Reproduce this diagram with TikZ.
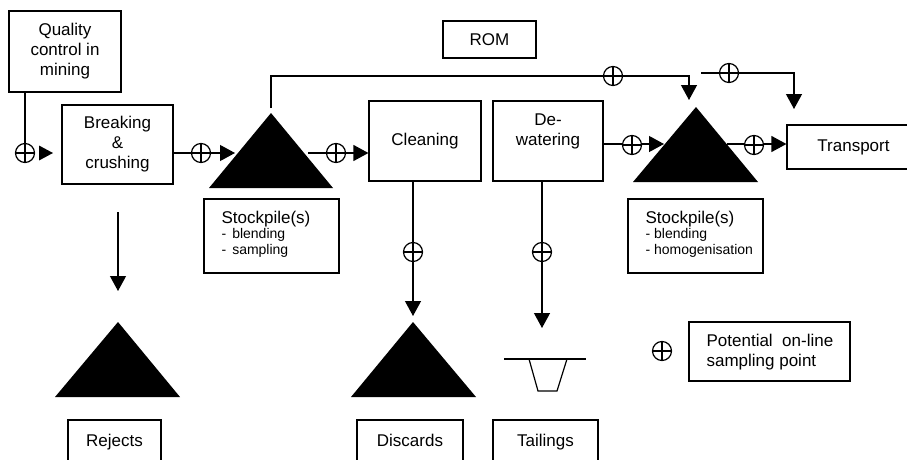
\documentclass[tikz,border=0pt]{standalone}
\usepackage{fontspec}
\setmainfont{Liberation Sans}
\usetikzlibrary{arrows.meta}
\begin{document}
\begin{tikzpicture}[x=1pt,y=-1pt,line width=1.2pt,
  box/.style={draw,line width=1.2pt,inner sep=0pt,align=center,font=\fontsize{17}{20}\selectfont},
  lbl/.style={inner sep=0pt,align=left,font=\fontsize{17}{20}\selectfont},
  sml/.style={inner sep=0pt,align=left,font=\fontsize{14}{16}\selectfont},
  samp/.style={circle,draw,fill=white,minimum size=19pt,inner sep=0pt,line width=1.2pt,
    path picture={\draw[line width=1.2pt] (path picture bounding box.north) -- (path picture bounding box.south)
      (path picture bounding box.west) -- (path picture bounding box.east);}},
  arr/.style={-{Triangle[length=15pt,width=16pt]}},
  pile/.style={fill=black}]
\useasboundingbox (0,0) rectangle (907,460);
\clip (0,0) rectangle (907,460);

% boxes
\node[box,minimum width=112pt,minimum height=81pt] (qc) at (65,51.5) {Quality\\control in\\mining};
\node[box,minimum width=111pt,minimum height=79pt] (bc) at (117.5,144.5) {Breaking\\\&\\crushing};
\node[box,minimum width=93pt,minimum height=37pt] (rom) at (489.5,39.5) {ROM};
\node[box,minimum width=112pt,minimum height=80pt] (cl) at (425,141) {Cleaning};
\node[box,minimum width=110pt,minimum height=80pt] (dw) at (548,141) {};
\node[lbl,align=center] (dwt) at (548,131) {De-\\watering};
\node[box,minimum width=133pt,minimum height=44pt] (tr) at (853.5,147) {Transport};
\node[box,minimum width=135pt,minimum height=74pt] (sp1) at (271.5,236) {};
\node[lbl,anchor=west] (sp1a) at (221,219) {Stockpile(s)};
\node[sml,anchor=west] (sp1b) at (221,235) {-\hspace{6pt}blending};
\node[sml,anchor=west] (sp1c) at (221,251) {-\hspace{6pt}sampling};
\node[box,minimum width=135pt,minimum height=74pt] (sp2) at (695.5,236) {};
\node[lbl,anchor=west] (sp2a) at (645,219) {Stockpile(s)};
\node[sml,anchor=west] (sp2b) at (645,235) {- blending};
\node[sml,anchor=west] (sp2c) at (645,251) {- homogenisation};
\node[box,minimum width=93pt,minimum height=44pt] (rej) at (114.5,442) {};
\node[lbl,anchor=base] (rejt) at (114.5,446) {Rejects};
\node[box,minimum width=106pt,minimum height=44pt] (dis) at (410,442) {};
\node[lbl,anchor=base] (dist) at (410,446) {Discards};
\node[box,minimum width=105pt,minimum height=44pt] (tai) at (545.5,442) {};
\node[lbl,anchor=base] (tait) at (545.5,446) {Tailings};
\node[box,minimum width=161pt,minimum height=59pt] (leg) at (769.5,351.5) {};
\node[lbl,anchor=west] (legt) at (706,352) {Potential\ \ on-line\\sampling point};

% stockpiles
\fill[pile] (271,113) -- (209,188) -- (333,188) -- cycle;
\fill[pile] (696,107) -- (633,182) -- (758,182) -- cycle;
\fill[pile] (118,322) -- (55,397) -- (180,397) -- cycle;
\fill[pile] (413,322) -- (351,397) -- (476,397) -- cycle;
% tailings dam
\draw (504,359) -- (586,359);
\draw (529,359) -- (538,391) -- (557,391) -- (567,359);

% sampling point positions
\coordinate (p1) at (25,153);
\coordinate (p2) at (201,153);
\coordinate (p3) at (336,153);
\coordinate (p4) at (613,76);
\coordinate (p5) at (632,145);
\coordinate (p6) at (754,145);
\coordinate (p7) at (729,73);
\coordinate (p8) at (413,252);
\coordinate (p9) at (542,252);
\coordinate (p10) at (662,351);

% connectors
\draw (qc.south -| p1) -- (p1);
\fill (39,145.5) -- (53,153) -- (39,160.5) -- cycle;
\draw[arr] (bc.east |- p2) -- (235,153);
\draw[arr] (308,153) -- (cl.west |- p3);
\draw[arr] (271,108) -- (271,76) -- (689,76) -- (689,100);
\draw[arr] (dw.east |- 0,144) -- (664,144);
\draw[arr] (727,144) -- (tr.west |- 0,144);
\draw[arr] (701,73) -- (794,73) -- (794,109);
\draw[arr] (118,212) -- (118,291);
\draw[arr] (cl.south -| p8) -- (413,316);
\draw[arr] (dw.south -| p9) -- (542,328);

% sampling points
\foreach \i in {1,...,10} {\node[samp] (c\i) at (p\i) {};}
\end{tikzpicture}
\end{document}
